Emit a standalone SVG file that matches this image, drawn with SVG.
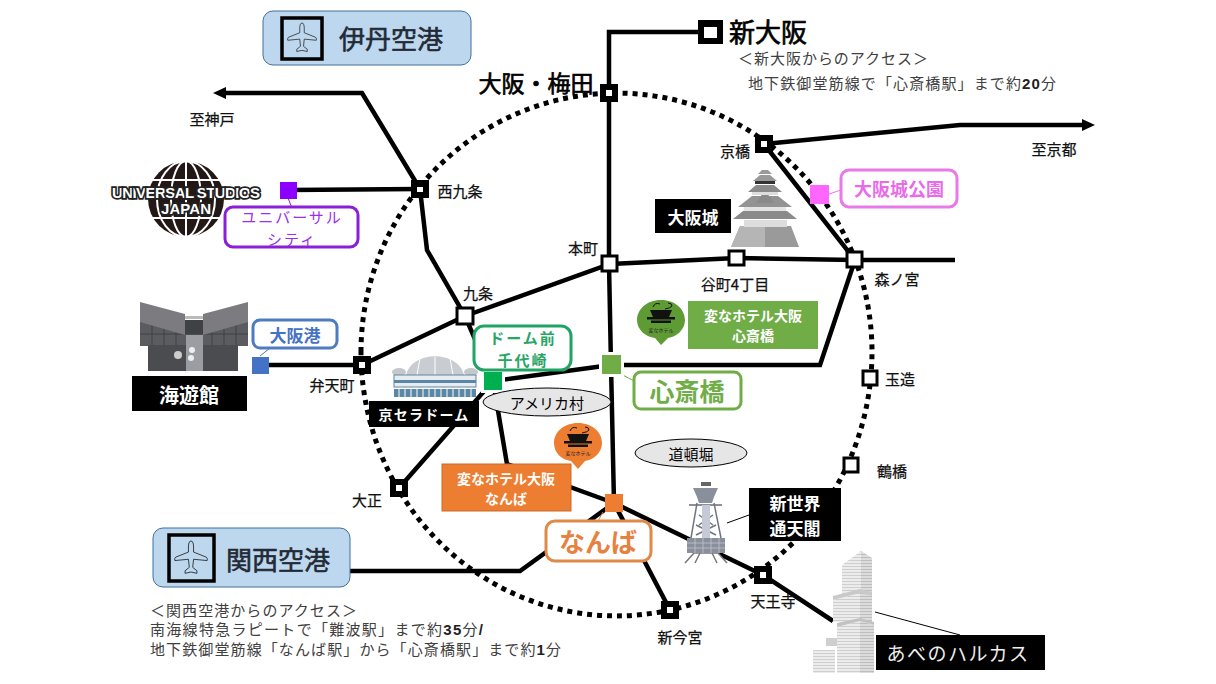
<svg xmlns="http://www.w3.org/2000/svg" width="1216" height="684" viewBox="0 0 1216 684">
<style>
text{font-family:"Noto Sans CJK JP","Liberation Sans",sans-serif;text-anchor:middle;dominant-baseline:central}
.s{font-size:15px;fill:#111;stroke:#111;stroke-width:.25}
.n{font-size:15px;fill:#404040;text-anchor:start;dominant-baseline:auto}
.n tspan{font-family:"Liberation Sans",sans-serif;font-weight:700;fill:#222}
.w{fill:#fff;font-weight:700}
.l{fill:none;stroke:#000;stroke-width:4.5}
.ring{fill:none;stroke:#000;stroke-width:5;stroke-dasharray:5 5}
.k{fill:#000}
.o{fill:#fff}
.wh{fill:#fff;stroke:#000;stroke-width:3}
.c{stroke:#fff;stroke-width:6;paint-order:stroke}
.air{fill:#BDD7EE;stroke:#41719C;stroke-width:1}
.ic{fill:none;stroke:#000;stroke-width:3.5}
.p{fill:none;stroke:#222;stroke-width:1}
.lead{fill:none;stroke-width:1}
.a{font-size:26px;fill:#222A35;stroke:#222A35;stroke-width:.6}
.big{fill:#000;stroke:#000;stroke-width:.7}
.e{fill:#E7E6E6;stroke:#000;stroke-width:1}
.usj{font-weight:700;stroke:#222;stroke-width:3.5;paint-order:stroke;fill:#fff;font-family:"Liberation Sans",sans-serif}
</style>
<defs>
<path id="plane" d="M0,-20C2.5,-20 3,-16 3,-13L3,-7 18,-1Q20,1 19,3L3,1.5 2,11 7,15 7,18 0,16.5-7,18-7,15-2,11-3,1.5-19,3Q-20,1-18,-1L-3,-7-3,-13C-3,-16-2.5,-20 0,-20Z"/>
<marker id="arrow" markerUnits="userSpaceOnUse" markerWidth="14" markerHeight="14" refX="2" refY="6" viewBox="0 0 14 12" orient="auto"><path d="M0,0L13,6 0,12Z"/></marker>
<g id="pot"><path d="M-11,-6h22l-3,7h-16z" fill="#111"/><rect x="-14" y="1" width="28" height="2.5" fill="#111"/><rect x="-10" y="4.5" width="20" height="2.5" fill="#111"/><path d="M-8,-9q2,-5 7,-3M4,-7q6,-1 7,-3q0,-3-4,-3" fill="none" stroke="#111" stroke-width="1"/></g>
<pattern id="floors" width="4" height="3" patternUnits="userSpaceOnUse"><rect width="4" height="3" fill="#ececec"/><path d="M0,2.5H4" stroke="#cfcfcf" stroke-width="1"/></pattern>
<pattern id="floors2" width="4" height="3" patternUnits="userSpaceOnUse"><rect width="4" height="3" fill="#dcdcdc"/><path d="M0,2.5H4" stroke="#bdbdbd" stroke-width="1"/></pattern>
</defs>

<g id="connectors">
<path class="ring" d="M361,352A255.5,259 0 0 1 872,352A255.5,264 0 0 1 361,352Z"/>
<path class="l" marker-end="url(#arrow)" d="M420,189L362,93H224"/>
<path class="l" d="M288,190L420,189"/>
<path class="l" d="M260,365H362"/>
<path class="l" d="M420,189L427,250 465,316 493,381 507,464 614,503"/>
<path class="l" d="M362,365L465,316 610,264 737,258 855,260H955"/>
<path class="l" d="M710,32H609V264L611,365 614,503"/>
<path class="l" d="M611,365H820L855,260L764,144"/>
<path class="l" marker-end="url(#arrow)" d="M764,144L960,125H1084"/>
<path class="l" d="M399,488L493,381 611,365"/>
<path class="l" d="M614,503L763,575 833,621"/>
<path class="l" d="M614,503L670,610"/>
<path class="l" d="M350,571H520L614,503"/>
<path class="lead" stroke="#8B1FD8" d="M288,198L292,208"/>
<path class="lead" stroke="#E978E8" d="M829,194L841,190"/>
<path class="lead" stroke="#4F7CBF" d="M260,356L270,348"/>
<path class="lead" stroke="#70AD47" d="M619,373L634,381"/>
<path class="lead" stroke="#ED7D31" d="M603,512L598,521"/>
<path class="lead" stroke="#000" d="M727,523L749,515"/>
<path class="lead" stroke="#000" d="M875,612L960,635"/>
</g>

<g id="itami"><rect class="air" x="263" y="11" width="208" height="54" rx="10"/><rect class="ic" x="282" y="18" width="40" height="41"/><use href="#plane" class="p" transform="translate(302,38) scale(.75)"/><text class="a" x="391" y="37">伊丹空港</text></g>
<g id="kansai"><rect class="air" x="153" y="528" width="197" height="59" rx="10"/><rect class="ic" x="169" y="535" width="45" height="46"/><use href="#plane" class="p" transform="translate(191,558) scale(.85)"/><text class="a" x="278" y="558">関西空港</text></g>

<g id="shinosaka"><rect class="k" x="698" y="20" width="25" height="24"/><rect class="o" x="704" y="27" width="13" height="11"/><text class="big" x="768" y="30" font-size="26">新大阪</text>
<text class="n" x="738" y="64" textLength="190">＜新大阪からのアクセス＞</text>
<text class="n" x="748" y="89" textLength="308">地下鉄御堂筋線で「心斎橋駅」まで約<tspan>20</tspan>分</text></g>
<g id="umeda"><rect class="k" x="600" y="84" width="18" height="18"/><rect class="o" x="606" y="90" width="6" height="6"/><text class="big" x="536" y="82" font-size="23">大阪・梅田</text></g>
<g id="nishikujo"><rect class="k" x="411" y="180" width="18" height="18"/><rect class="o" x="417" y="187" width="6" height="5"/><text class="s" x="460" y="190">西九条</text></g>
<g id="kyobashi"><rect class="k" x="755" y="135" width="18" height="18"/><rect class="o" x="761" y="141" width="6" height="6"/><text class="s" x="735" y="150">京橋</text></g>
<g id="bentencho"><rect class="k" x="353" y="356" width="18" height="18"/><rect class="o" x="359" y="362" width="6" height="6"/><text class="s" x="332" y="384">弁天町</text></g>
<g id="taisho"><rect class="k" x="390" y="479" width="18" height="18"/><rect class="o" x="396" y="485" width="6" height="6"/><text class="s" x="367" y="499">大正</text></g>
<g id="tennoji"><rect class="k" x="754" y="566" width="18" height="18"/><rect class="o" x="760" y="572" width="6" height="6"/><text class="s" x="773" y="600">天王寺</text></g>
<g id="shinimamiya"><rect class="k" x="661" y="601" width="18" height="18"/><rect class="o" x="667" y="607" width="6" height="6"/><text class="s" x="680" y="636">新今宮</text></g>
<g id="kujo"><rect class="wh" x="457" y="308" width="16" height="16"/><text class="s" x="478" y="292">九条</text></g>
<g id="honmachi"><rect class="wh" x="602" y="256" width="15" height="15"/><text class="s" x="583" y="247">本町</text></g>
<g id="tanimachi"><rect class="wh" x="729" y="251" width="15" height="14"/><text class="s" x="735" y="283">谷町4丁目</text></g>
<g id="morinomiya"><rect class="wh" x="847" y="252" width="15" height="15"/><text class="s" x="897" y="278">森ノ宮</text></g>
<g id="tamatsukuri"><rect class="wh" x="863" y="371" width="14" height="14"/><text class="s" x="900" y="378">玉造</text></g>
<g id="tsuruhashi"><rect class="wh" x="844" y="458" width="14" height="14"/><text class="s" x="892" y="470">鶴橋</text></g>

<g id="usj"><circle cx="186" cy="199" r="38" fill="#231815"/><g fill="none" stroke="#fff" stroke-width="2"><ellipse cx="186" cy="199" rx="15" ry="38"/><ellipse cx="186" cy="199" rx="29" ry="38"/><path d="M186,161V237M152,180H220M152,218H220"/></g>
<text class="usj" x="186" y="192" font-size="15" textLength="148">UNIVERSAL STUDIOS</text>
<text class="usj" x="186" y="208" font-size="15" textLength="50">JAPAN</text></g>
<g id="universal-city"><rect x="280" y="182" width="17" height="17" fill="#8B00FF"/><rect x="225" y="207" width="133" height="40" rx="8" fill="#fff" stroke="#8B1FD8" stroke-width="3"/><text font-size="15" letter-spacing="2" fill="#9B30E8"><tspan x="292" y="216">ユニバーサル</tspan><tspan x="292" y="238">シティ</tspan></text></g>

<g id="osaka-castle"><path fill="#9a9a9a" d="M731,247H799L791,226H740Z"/><path fill="#b5b5b5" d="M765,247H731L740,226H765Z"/><rect x="744" y="220" width="43" height="7" fill="#ddd"/><path fill="#8a8a8a" d="M733,219H797L787,211H743Z"/><rect x="744" y="206" width="42" height="5" fill="#e4e4e4"/><path fill="#939393" d="M738,207H792L778,196H752Z"/><path fill="#8a8a8a" d="M765,190L774,203H756Z"/><rect x="752" y="190" width="26" height="5" fill="#ddd"/><path fill="#8a8a8a" d="M748,192H782L774,185H756Z"/><rect x="755" y="181" width="20" height="3" fill="#333"/><path fill="#9a9a9a" d="M753,181H777L770,175H760Z"/><path fill="#9a9a9a" d="M758,174H772L768,170H762Z"/>
<rect x="655" y="199" width="76" height="34" class="k"/><text class="w" x="693" y="216" font-size="17">大阪城</text></g>
<g id="osaka-castle-park"><rect x="810" y="185" width="19" height="19" fill="#FF66FF"/><rect x="841" y="170" width="116" height="37" rx="8" fill="#fff" stroke="#E978E8" stroke-width="3"/><text x="899" y="188" font-size="18" font-weight="700" fill="#E86BEA">大阪城公園</text></g>

<g id="aquarium"><rect x="140" y="322" width="108" height="24" fill="#5a5c60"/><path d="M152,322V346M164,322V346M176,322V346M212,322V346M224,322V346M236,322V346M140,334H248" stroke="#3f4144" stroke-width="1"/><rect x="148" y="345" width="90" height="26" fill="#4a4c50"/><rect x="185" y="320" width="18" height="14" fill="#3f4144"/><rect x="185" y="316" width="18" height="3" fill="#bbb"/><rect x="186" y="335" width="17" height="36" fill="#9a9ea3"/><path fill="#7c7c80" d="M140,302L185,314V335L140,322ZM248,302L203,314V335L248,322Z"/><circle cx="178" cy="355" r="4" fill="#ccc"/><circle cx="192" cy="350" r="3" fill="#eee"/><circle cx="191" cy="358" r="3" fill="#eee"/>
<rect x="132" y="376" width="115" height="35" class="k"/><text class="w" x="189" y="394" font-size="20">海遊館</text></g>
<g id="osaka-port"><rect x="252" y="357" width="17" height="17" fill="#4472C4"/><rect x="253" y="320" width="84" height="28" rx="7" fill="#fff" stroke="#4F7CBF" stroke-width="3"/><text x="295" y="334" font-size="17" font-weight="700" fill="#4472C4">大阪港</text></g>

<g id="kyocera-dome"><path fill="#c9cdd1" d="M406,375C412,350 458,350 464,375Z"/><path d="M420,358L417,375M435,357V375M450,358L453,375" stroke="#fff" stroke-width="1"/><ellipse cx="399" cy="372" rx="7" ry="4" fill="#c4c8cb"/><ellipse cx="471" cy="372" rx="7" ry="4" fill="#c4c8cb"/><rect x="394" y="375" width="82" height="12" fill="#e8ecef" stroke="#5a87a5"/><rect x="394" y="380" width="82" height="3" fill="#5a87a5"/><rect x="394" y="389" width="82" height="8" fill="#5a87a5"/><path d="M399,389v8M405,389v8M411,389v8M417,389v8M423,389v8M429,389v8M435,389v8M441,389v8M447,389v8M453,389v8M459,389v8M465,389v8M471,389v8" stroke="#fff" stroke-width="1"/>
<rect x="369" y="401" width="110" height="26" class="k"/><text class="w" x="424" y="414" font-size="14" letter-spacing="1.2">京セラドーム</text></g>
<g id="dome-mae"><rect class="c" x="484" y="372" width="18" height="18" fill="#00B050"/><rect x="474" y="326" width="97" height="44" rx="10" fill="#fff" stroke="#1FA463" stroke-width="3"/><text font-size="15" letter-spacing="2" font-weight="700" fill="#27A565"><tspan x="523" y="337">ドーム前</tspan><tspan x="523" y="359">千代崎</tspan></text></g>
<g id="shinsaibashi"><rect class="c" x="602" y="355" width="19" height="19" fill="#70AD47"/><rect x="634" y="372" width="107" height="37" rx="7" fill="#fff" stroke="#70AD47" stroke-width="3"/><text x="687" y="390" font-size="25" font-weight="700" fill="#70AD47">心斎橋</text></g>
<g id="amerika-mura"><ellipse class="e" cx="547" cy="402" rx="64" ry="14"/><text x="547" y="402" font-size="15" fill="#000">アメリカ村</text></g>
<g id="dotonbori"><ellipse class="e" cx="691" cy="453" rx="56" ry="14"/><text x="691" y="453" font-size="15" fill="#000">道頓堀</text></g>
<g id="hotel-shinsaibashi"><path fill="#5F9B35" d="M661,300C676,300 685,310 685,320C685,330 676,337 668,338L661,345 655,338C646,337 637,330 637,320C637,310 646,300 661,300Z"/><use href="#pot" transform="translate(661,316)"/><text x="661" y="329" font-size="5" fill="#222">変なホテル</text><rect x="688" y="301" width="130" height="48" fill="#70AD47"/><text class="w" font-size="14"><tspan x="753" y="315">変なホテル大阪</tspan><tspan x="753" y="335">心斎橋</tspan></text></g>
<g id="hotel-namba"><path fill="#ED7D31" d="M578,423C592,423 602,432 602,443C602,453 593,460 585,461L578,469 571,461C562,460 554,453 554,443C554,432 564,423 578,423Z"/><use href="#pot" transform="translate(578,440)"/><text x="578" y="452" font-size="5" fill="#222">変なホテル</text><rect x="442" y="464" width="129" height="47" fill="#ED7D31" stroke="#c96a28" stroke-width="1"/><text class="w" font-size="14"><tspan x="506" y="478">変なホテル大阪</tspan><tspan x="506" y="498">なんば</tspan></text></g>
<g id="namba"><rect x="605" y="494" width="18" height="18" fill="#ED7D31"/><rect x="546" y="521" width="105" height="40" rx="9" fill="#fff" stroke="#E08A4A" stroke-width="3"/><text x="598" y="540" font-size="26" font-weight="700" fill="#E6823F">なんば</text></g>

<g id="tsutenkaku"><path d="M685,563L694,553H718L727,563" fill="#fff" stroke="#777" stroke-width="1.5"/><path d="M695,563L700,553M717,563L712,553" fill="none" stroke="#777" stroke-width="1.5"/><rect x="701" y="482" width="10" height="4" fill="#666"/><path fill="#8a8f9c" d="M693,488H718L714,497 712,503H699L697,497Z"/><path d="M689,505L722,505" stroke="#8a8f9c" stroke-width="2"/><path d="M697,503L691,538M714,503L721,538M699,515L713,525M713,515L699,525M696,525L716,535M716,525L696,535" stroke="#6f7480" stroke-width="1.5" fill="none"/><rect x="702" y="505" width="8" height="33" fill="#c5cad6"/><rect x="687" y="538" width="38" height="15" fill="#8a8f9c"/><path d="M687,543H725M687,548H725M695,538V553M703,538V553M711,538V553M719,538V553" stroke="#c5cad6" stroke-width=".7"/></g>
<g id="shinsekai"><rect x="749" y="488" width="92" height="53" class="k"/><text class="w" font-size="17"><tspan x="795" y="502">新世界</tspan><tspan x="795" y="527">通天閣</tspan></text></g>

<g id="harukas"><rect x="813" y="650" width="22" height="23" fill="url(#floors)"/><path fill="url(#floors)" d="M842,565L861,551 861,595H842Z"/><path fill="url(#floors2)" d="M861,551L872,558V595H861Z"/><path fill="url(#floors)" d="M833,600L860,593V622H833Z"/><path fill="url(#floors2)" d="M860,593L872,596V622H860Z"/><path fill="#c9c9c9" d="M833,596L860,589 872,592V596L860,593 833,600Z"/><path fill="url(#floors)" d="M837,627L860,621V673H837Z"/><path fill="url(#floors2)" d="M860,621L874,625V673H860Z"/><path fill="#c2c2c2" d="M837,623L860,618 874,622V625L860,621 837,627Z"/><rect x="826" y="638" width="11" height="8" fill="#cfcfcf"/></g>
<g id="abeno-harukas"><rect x="876" y="635" width="169" height="35" class="k"/><text x="958" y="652" font-size="19" letter-spacing="1.5" fill="#eee">あべのハルカス</text></g>

<g id="kobe-label"><text class="s" x="212" y="118">至神戸</text></g>
<g id="kyoto-label"><text class="s" x="1054" y="148">至京都</text></g>
<g id="kansai-access"><text class="n" x="150" y="616" textLength="207">＜関西空港からのアクセス＞</text>
<text class="n" x="150" y="635" textLength="333">南海線特急ラピートで「難波駅」まで約<tspan>35</tspan>分<tspan>/</tspan></text>
<text class="n" x="150" y="655" textLength="411">地下鉄御堂筋線「なんば駅」から「心斎橋駅」まで約<tspan>1</tspan>分</text></g>
</svg>
